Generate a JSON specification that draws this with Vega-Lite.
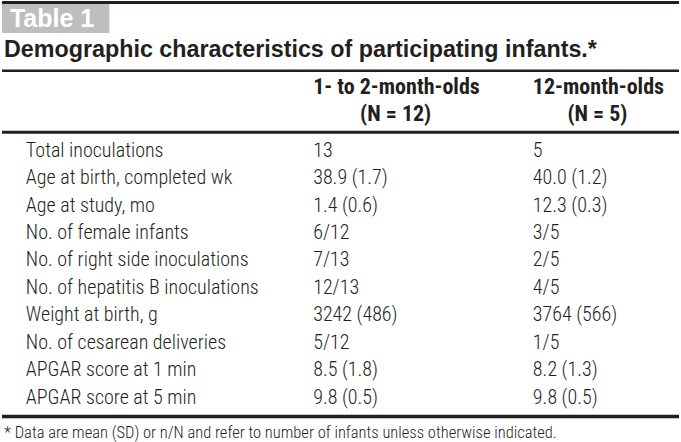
{
  "$schema": "https://vega.github.io/schema/vega-lite/v6.json",
  "width": 681,
  "height": 442,
  "padding": 0,
  "autosize": {"type": "fit", "contains": "padding"},
  "background": "white",
  "config": {"view": {"stroke": null}},
  "datasets": {
    "rows": [
      {"characteristic": "Total inoculations", "g1": "13", "g2": "5"},
      {"characteristic": "Age at birth, completed wk", "g1": "38.9 (1.7)", "g2": "40.0 (1.2)"},
      {"characteristic": "Age at study, mo", "g1": "1.4 (0.6)", "g2": "12.3 (0.3)"},
      {"characteristic": "No. of female infants", "g1": "6/12", "g2": "3/5"},
      {"characteristic": "No. of right side inoculations", "g1": "7/13", "g2": "2/5"},
      {"characteristic": "No. of hepatitis B inoculations", "g1": "12/13", "g2": "4/5"},
      {"characteristic": "Weight at birth, g", "g1": "3242 (486)", "g2": "3764 (566)"},
      {"characteristic": "No. of cesarean deliveries", "g1": "5/12", "g2": "1/5"},
      {"characteristic": "APGAR score at 1 min", "g1": "8.5 (1.8)", "g2": "8.2 (1.3)"},
      {"characteristic": "APGAR score at 5 min", "g1": "9.8 (0.5)", "g2": "9.8 (0.5)"}
    ],
    "groups": [
      {"group": "g1", "label": "1- to 2-month-olds", "n": "(N = 12)"},
      {"group": "g2", "label": "12-month-olds", "n": "(N = 5)"}
    ],
    "texts": [
      {"kind": "tag", "text": "Table 1"},
      {"kind": "title", "text": "Demographic characteristics of participating infants.*"},
      {"kind": "note", "text": "* Data are mean (SD) or n/N and refer to number of infants unless otherwise indicated."}
    ]
  },
  "encoding": {},
  "layer": [
    {
      "data": {"name": "rows"},
      "mark": {"type": "rule", "color": "#231f20", "strokeWidth": 3},
      "encoding": {
        "x": {"datum": 0, "type": "quantitative", "scale": {"domain": [0, 681], "nice": false, "zero": false}, "axis": null},
        "x2": {"datum": 681},
        "y": {"datum": -4.4, "type": "quantitative", "scale": {"domain": [-4.4545, 11.618], "nice": false, "zero": false, "reverse": true}, "axis": null}
      },
      "transform": [{"filter": "datum.characteristic === 'Total inoculations'"}]
    },
    {
      "data": {"name": "rows"},
      "transform": [{"filter": "datum.characteristic === 'Total inoculations'"}],
      "mark": {"type": "rule", "color": "#231f20", "strokeWidth": 2.5},
      "encoding": {"x": {"datum": 0, "type": "quantitative"}, "x2": {"datum": 681}, "y": {"datum": -1.909, "type": "quantitative"}}
    },
    {
      "data": {"name": "rows"},
      "transform": [{"filter": "datum.characteristic === 'Total inoculations'"}],
      "mark": {"type": "rule", "color": "#231f20", "strokeWidth": 3},
      "encoding": {"x": {"datum": 0, "type": "quantitative"}, "x2": {"datum": 681}, "y": {"datum": 0.327, "type": "quantitative"}}
    },
    {
      "data": {"name": "rows"},
      "transform": [{"filter": "datum.characteristic === 'Total inoculations'"}],
      "mark": {"type": "rule", "color": "#231f20", "strokeWidth": 3.5},
      "encoding": {"x": {"datum": 0, "type": "quantitative"}, "x2": {"datum": 681}, "y": {"datum": 10.691, "type": "quantitative"}}
    },
    {
      "data": {"name": "texts"},
      "transform": [{"filter": "datum.kind === 'tag'"}],
      "mark": {"type": "rect", "color": "#bebebe"},
      "encoding": {"x": {"datum": 0, "type": "quantitative"}, "x2": {"datum": 108}, "y": {"datum": -4.345, "type": "quantitative"}, "y2": {"datum": -3.291}}
    },
    {
      "data": {"name": "texts"},
      "transform": [{"filter": "datum.kind === 'tag'"}],
      "mark": {"type": "text", "align": "left", "baseline": "middle", "font": "Liberation Sans", "fontWeight": "bold", "fontSize": 25, "color": "white"},
      "encoding": {"x": {"datum": 8, "type": "quantitative"}, "y": {"datum": -3.8, "type": "quantitative"}, "text": {"field": "text"}}
    },
    {
      "data": {"name": "texts"},
      "transform": [{"filter": "datum.kind === 'title'"}],
      "mark": {"type": "text", "align": "left", "baseline": "middle", "font": "Liberation Sans", "fontWeight": "bold", "fontSize": 23.3, "color": "#231f20"},
      "encoding": {"x": {"datum": 2, "type": "quantitative"}, "y": {"datum": -2.673, "type": "quantitative"}, "text": {"field": "text"}}
    },
    {
      "data": {"name": "groups"},
      "transform": [{"filter": "datum.group === 'g1'"}],
      "mark": {"type": "text", "align": "left", "baseline": "middle", "font": "Roboto Condensed, Liberation Sans Narrow, Roboto", "fontWeight": "bold", "fontSize": 22, "color": "#231f20"},
      "encoding": {"x": {"datum": 313, "type": "quantitative"}, "y": {"datum": -1.309, "type": "quantitative"}, "text": {"field": "label"}}
    },
    {
      "data": {"name": "groups"},
      "transform": [{"filter": "datum.group === 'g1'"}],
      "mark": {"type": "text", "align": "center", "baseline": "middle", "font": "Roboto Condensed, Liberation Sans Narrow, Roboto", "fontWeight": "bold", "fontSize": 22, "color": "#231f20"},
      "encoding": {"x": {"datum": 396, "type": "quantitative"}, "y": {"datum": -0.327, "type": "quantitative"}, "text": {"field": "n"}}
    },
    {
      "data": {"name": "groups"},
      "transform": [{"filter": "datum.group === 'g2'"}],
      "mark": {"type": "text", "align": "left", "baseline": "middle", "font": "Roboto Condensed, Liberation Sans Narrow, Roboto", "fontWeight": "bold", "fontSize": 22, "color": "#231f20"},
      "encoding": {"x": {"datum": 534, "type": "quantitative"}, "y": {"datum": -1.309, "type": "quantitative"}, "text": {"field": "label"}}
    },
    {
      "data": {"name": "groups"},
      "transform": [{"filter": "datum.group === 'g2'"}],
      "mark": {"type": "text", "align": "center", "baseline": "middle", "font": "Roboto Condensed, Liberation Sans Narrow, Roboto", "fontWeight": "bold", "fontSize": 22, "color": "#231f20"},
      "encoding": {"x": {"datum": 599, "type": "quantitative"}, "y": {"datum": -0.327, "type": "quantitative"}, "text": {"field": "n"}}
    },
    {
      "data": {"name": "rows"},
      "transform": [{"window": [{"op": "row_number", "as": "line"}]}],
      "mark": {"type": "text", "align": "left", "baseline": "middle", "font": "Roboto Condensed, Liberation Sans Narrow, Roboto", "fontWeight": 300, "fontSize": 20, "color": "#231f20"},
      "encoding": {"x": {"datum": 24, "type": "quantitative"}, "y": {"field": "line", "type": "quantitative"}, "text": {"field": "characteristic"}}
    },
    {
      "data": {"name": "rows"},
      "transform": [{"window": [{"op": "row_number", "as": "line"}]}],
      "mark": {"type": "text", "align": "left", "baseline": "middle", "font": "Roboto Condensed, Liberation Sans Narrow, Roboto", "fontWeight": 300, "fontSize": 20, "color": "#231f20"},
      "encoding": {"x": {"datum": 313, "type": "quantitative"}, "y": {"field": "line", "type": "quantitative"}, "text": {"field": "g1"}}
    },
    {
      "data": {"name": "rows"},
      "transform": [{"window": [{"op": "row_number", "as": "line"}]}],
      "mark": {"type": "text", "align": "left", "baseline": "middle", "font": "Roboto Condensed, Liberation Sans Narrow, Roboto", "fontWeight": 300, "fontSize": 20, "color": "#231f20"},
      "encoding": {"x": {"datum": 534, "type": "quantitative"}, "y": {"field": "line", "type": "quantitative"}, "text": {"field": "g2"}}
    },
    {
      "data": {"name": "texts"},
      "transform": [{"filter": "datum.kind === 'note'"}],
      "mark": {"type": "text", "align": "left", "baseline": "middle", "font": "Roboto Condensed, Liberation Sans Narrow, Roboto", "fontWeight": 300, "fontSize": 16.5, "color": "#231f20"},
      "encoding": {"x": {"datum": 2, "type": "quantitative"}, "y": {"datum": 11.291, "type": "quantitative"}, "text": {"field": "text"}}
    }
  ]
}
